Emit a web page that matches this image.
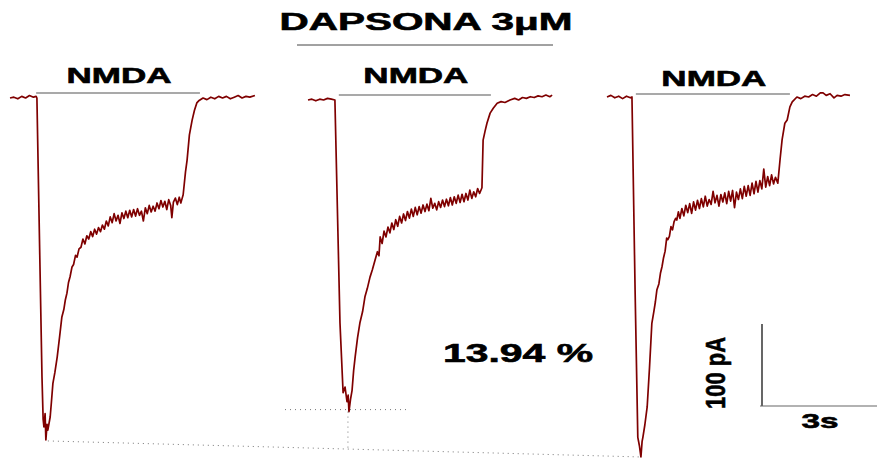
<!DOCTYPE html>
<html>
<head>
  <meta charset="UTF-8" />
  <title>Dapsona 3uM - NMDA currents</title>
  <script src="https://cdn.jsdelivr.net/npm/d3@7"></script>
  <style>
    body {
      margin: 0;
      background: #fff;
      font-family: 'Liberation Sans', Arial, sans-serif;
    }
    svg text {
      font-weight: bold;
      fill: #000;
      stroke: #000;
      stroke-width: 0.6px;
    }
  </style>
</head>
<body>
  <div id="chart"></div>
  <script>
    const trace1 = [
      [0, 0], [0.1, 1], [0.2, -1], [0.3, 2], [0.4, 0], [0.5, 3], [0.6, 1], [0.67, 2],
      [0.69, 0], [0.82, -340], [0.85, -392], [0.87, -401], [0.9, -385], [0.92, -417], [0.95, -398],
      [0.97, -405], [1.03, -389], [1.06, -372], [1.1, -348], [1.15, -335], [1.21, -316], [1.27, -292],
      [1.33, -267], [1.38, -258], [1.42, -246], [1.46, -238], [1.5, -225], [1.54, -218], [1.59, -206],
      [1.63, -203], [1.68, -192], [1.72, -194], [1.77, -184], [1.82, -182], [1.87, -172], [1.92, -178],
      [1.97, -168], [2.02, -172], [2.07, -163], [2.12, -169], [2.17, -160], [2.22, -166], [2.27, -158],
      [2.32, -163], [2.37, -155], [2.42, -160], [2.47, -150], [2.52, -156], [2.57, -145], [2.62, -152],
      [2.67, -141], [2.72, -150], [2.77, -143], [2.82, -153], [2.87, -140], [2.92, -147], [2.97, -138],
      [3.02, -146], [3.07, -137], [3.12, -145], [3.17, -136], [3.22, -144], [3.27, -135], [3.32, -143],
      [3.37, -138], [3.42, -150], [3.47, -134], [3.52, -141], [3.57, -131], [3.62, -139], [3.67, -132],
      [3.72, -138], [3.77, -128], [3.82, -135], [3.87, -125], [3.92, -133], [3.97, -126], [4.02, -136],
      [4.07, -124], [4.12, -131], [4.15, -146], [4.19, -127], [4.24, -122], [4.29, -130], [4.34, -121],
      [4.38, -128], [4.41, -123], [4.44, -118], [4.5, -90], [4.54, -76], [4.6, -45], [4.67, -27],
      [4.73, -15], [4.79, -6], [4.85, -3], [4.95, 0], [5.05, -2], [5.15, 1], [5.25, -1], [5.35, 2],
      [5.45, 0], [5.55, 2], [5.65, -1], [5.75, 1], [5.85, 3], [5.95, 0], [6.05, 2], [6.15, 1], [6.28, 3]
    ]

    const trace2 = [
      [0, 0], [0.1, 1], [0.2, -1], [0.3, 1], [0.4, 0], [0.5, 2], [0.6, 1], [0.69, 0],
      [0.82, -272], [0.9, -357], [0.95, -350], [1.0, -368], [1.03, -360], [1.05, -380], [1.09, -365],
      [1.13, -354], [1.17, -330], [1.21, -313], [1.27, -290], [1.33, -272], [1.4, -258], [1.46, -240],
      [1.52, -230], [1.59, -216], [1.65, -207], [1.72, -195], [1.78, -185], [1.82, -190], [1.85, -167],
      [1.9, -175], [1.95, -160], [2.0, -167], [2.05, -155], [2.1, -162], [2.15, -150], [2.2, -158],
      [2.25, -146], [2.3, -154], [2.35, -142], [2.4, -150], [2.45, -139], [2.5, -147], [2.55, -136],
      [2.6, -144], [2.65, -133], [2.7, -142], [2.75, -131], [2.8, -140], [2.85, -130], [2.9, -138],
      [2.95, -128], [3.0, -136], [3.05, -127], [3.1, -135], [3.15, -120], [3.2, -132], [3.25, -126],
      [3.3, -134], [3.35, -124], [3.4, -131], [3.45, -122], [3.5, -130], [3.55, -121], [3.6, -129],
      [3.65, -119], [3.7, -128], [3.75, -118], [3.8, -126], [3.85, -116], [3.9, -125], [3.95, -115],
      [4.0, -124], [4.05, -114], [4.1, -122], [4.15, -110], [4.2, -120], [4.25, -112], [4.3, -118],
      [4.35, -108], [4.4, -114], [4.46, -107], [4.49, -49], [4.54, -38], [4.59, -28], [4.67, -16],
      [4.75, -10], [4.85, -4], [4.95, -2], [5.05, -3], [5.18, 0], [5.3, 2], [5.4, 0], [5.5, 3],
      [5.6, 2], [5.7, 4], [5.8, 3], [5.9, 5], [6.0, 4], [6.1, 6], [6.2, 4], [6.26, 6]
    ]

    const trace3 = [
      [0, 0], [0.1, 2], [0.2, -1], [0.3, 1], [0.4, -2], [0.5, 1], [0.6, -1], [0.64, 0],
      [0.72, -235], [0.79, -415], [0.83, -425], [0.87, -439], [0.9, -420], [0.92, -415], [0.97, -400],
      [1.03, -378], [1.09, -330], [1.15, -276], [1.2, -262], [1.24, -250], [1.28, -235], [1.33, -228],
      [1.37, -215], [1.41, -207], [1.45, -196], [1.49, -188], [1.53, -172], [1.56, -174], [1.6, -170],
      [1.64, -158], [1.68, -162], [1.72, -152], [1.76, -148], [1.79, -150], [1.83, -140], [1.87, -148],
      [1.92, -136], [1.97, -145], [2.02, -132], [2.07, -141], [2.12, -130], [2.17, -142], [2.22, -128],
      [2.27, -138], [2.32, -126], [2.37, -136], [2.42, -124], [2.47, -134], [2.52, -121], [2.57, -133],
      [2.62, -125], [2.67, -131], [2.72, -115], [2.77, -129], [2.82, -120], [2.87, -133], [2.92, -119],
      [2.97, -128], [3.02, -117], [3.07, -130], [3.12, -115], [3.17, -127], [3.22, -114], [3.27, -135],
      [3.32, -116], [3.37, -125], [3.42, -112], [3.47, -124], [3.52, -109], [3.57, -121], [3.62, -108],
      [3.67, -120], [3.72, -105], [3.77, -118], [3.82, -103], [3.87, -116], [3.92, -102], [3.97, -112],
      [4.02, -88], [4.07, -110], [4.12, -97], [4.17, -108], [4.22, -95], [4.27, -106], [4.32, -98],
      [4.38, -105], [4.44, -75], [4.49, -52], [4.56, -32], [4.62, -28], [4.69, -12], [4.75, -6],
      [4.87, 0], [4.97, -2], [5.07, 1], [5.17, 0], [5.27, 3], [5.37, 1], [5.47, 5], [5.54, 5],
      [5.62, 2], [5.72, 4], [5.82, -1], [5.9, 2], [6.0, 1], [6.1, 3], [6.23, 2]
    ]

    // NMDA application windows, [start, end] in seconds
    const nmdaWindows = [[0.67, 4.87], [0.79, 4.69], [0.74, 4.69]]
    const nmdaLabel = 'NMDA'
    const titleText = 'DAPSONA 3\u03bcM'
    const inhibitionText = '13.94 %'
    // scale bar: [seconds, pA]
    const scaleBarTime = 3
    const scaleBarCurrent = 100

    const width = 877
    const height = 460
    const pxPerSecond = 39
    const pxPerPa = 0.82
    const traceColor = '#7f0000'

    // each panel: where it sits on the page
    const panels = [
      { data: trace1, x0: 10, base: 98, labelY: 83, win: nmdaWindows[0], barY: 93 },
      { data: trace2, x0: 308, base: 100, labelY: 83, win: nmdaWindows[1], barY: 95 },
      { data: trace3, x0: 607, base: 97, labelY: 86, win: nmdaWindows[2], barY: 94 },
    ]

    const svg = d3
      .select('#chart')
      .append('svg')
      .attr('width', width)
      .attr('height', height)

    // title and its underline
    svg
      .append('text')
      .attr('x', 426)
      .attr('y', 30)
      .attr('text-anchor', 'middle')
      .attr('font-size', 24)
      .attr('textLength', 293)
      .attr('lengthAdjust', 'spacingAndGlyphs')
      .text(titleText)
    svg
      .append('line')
      .attr('x1', 297)
      .attr('x2', 553)
      .attr('y1', 45)
      .attr('y2', 45)
      .attr('stroke', '#444')
      .attr('stroke-width', 1)

    const peaks = []

    panels.forEach((p) => {
      const x = d3
        .scaleLinear()
        .domain([0, 1])
        .range([p.x0, p.x0 + pxPerSecond])
      const y = d3
        .scaleLinear()
        .domain([0, -100])
        .range([p.base, p.base + 100 * pxPerPa])

      const line = d3
        .line()
        .x((d) => x(d[0]))
        .y((d) => y(d[1]))

      svg
        .append('path')
        .datum(p.data)
        .attr('d', line)
        .attr('fill', 'none')
        .attr('stroke', traceColor)
        .attr('stroke-width', 1.7)
        .attr('stroke-linejoin', 'round')

      // NMDA bar
      svg
        .append('line')
        .attr('x1', x(p.win[0]))
        .attr('x2', x(p.win[1]))
        .attr('y1', p.barY)
        .attr('y2', p.barY)
        .attr('stroke', '#555')
        .attr('stroke-width', 1.2)

      svg
        .append('text')
        .attr('x', (x(p.win[0]) + x(p.win[1])) / 2 + 1)
        .attr('y', p.labelY)
        .attr('text-anchor', 'middle')
        .attr('font-size', 22)
        .attr('textLength', 105)
        .attr('lengthAdjust', 'spacingAndGlyphs')
        .text(nmdaLabel)

      const peak = p.data.reduce((a, b) => (b[1] < a[1] ? b : a))
      peaks.push([x(peak[0]), y(peak[1])])
    })

    // dotted guides between the peaks
    const dotted = (x1, y1, x2, y2) =>
      svg
        .append('line')
        .attr('x1', x1)
        .attr('y1', y1)
        .attr('x2', x2)
        .attr('y2', y2)
        .attr('stroke', '#777')
        .attr('stroke-width', 1)
        .attr('stroke-dasharray', '1,4')

    const [p1, p2, p3] = peaks
    dotted(p1[0] + 2, p1[1] + 1, p3[0], p3[1])
    dotted(285, p2[1] - 2, 410, p2[1] - 2)
    const t = (p2[0] - p1[0]) / (p3[0] - p1[0])
    dotted(p2[0] - 1, p2[1], p2[0] - 1, p1[1] + t * (p3[1] - p1[1]))

    // inhibition label
    svg
      .append('text')
      .attr('x', 443)
      .attr('y', 362)
      .attr('font-size', 26)
      .attr('textLength', 150)
      .attr('lengthAdjust', 'spacingAndGlyphs')
      .text(inhibitionText)

    // scale bar
    const sx = d3
      .scaleLinear()
      .domain([0, scaleBarTime])
      .range([760, 760 + scaleBarTime * pxPerSecond])
    const sy = d3
      .scaleLinear()
      .domain([0, scaleBarCurrent])
      .range([406, 406 - scaleBarCurrent * pxPerPa])

    svg
      .append('line')
      .attr('x1', sx(0) + 2)
      .attr('x2', sx(0) + 2)
      .attr('y1', sy(0))
      .attr('y2', sy(scaleBarCurrent))
      .attr('stroke', '#000')
      .attr('stroke-width', 1.2)
    svg
      .append('line')
      .attr('x1', sx(0))
      .attr('x2', sx(scaleBarTime))
      .attr('y1', sy(0))
      .attr('y2', sy(0))
      .attr('stroke', '#666')
      .attr('stroke-width', 1.2)

    svg
      .append('text')
      .attr('transform', 'translate(725, 373) rotate(-90)')
      .attr('text-anchor', 'middle')
      .attr('font-size', 27)
      .attr('textLength', 72)
      .attr('lengthAdjust', 'spacingAndGlyphs')
      .text(scaleBarCurrent + ' pA')

    svg
      .append('text')
      .attr('x', 820)
      .attr('y', 428)
      .attr('text-anchor', 'middle')
      .attr('font-size', 21)
      .attr('textLength', 37)
      .attr('lengthAdjust', 'spacingAndGlyphs')
      .text(scaleBarTime + 's')
  </script>
</body>
</html>
